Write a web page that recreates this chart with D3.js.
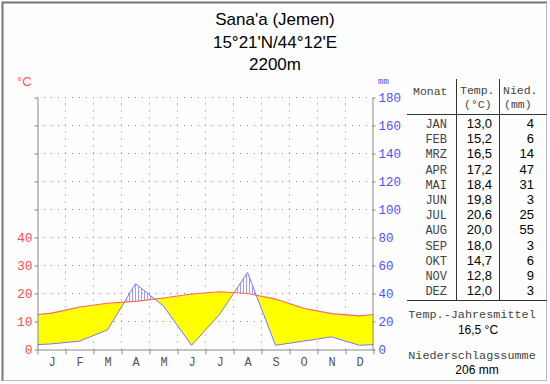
<!DOCTYPE html>
<html>
<head>
<meta charset="utf-8">
<script src="https://cdn.jsdelivr.net/npm/d3@7"></script>
<style>
  body { margin: 0; background: #fff; }
  .mono { font-family: "Liberation Mono", "DejaVu Sans Mono", monospace; }
  .sans { font-family: "Liberation Sans", Arial, sans-serif; }
</style>
</head>
<body>
<svg id="chart" width="550" height="384"></svg>
<script>
// ---- data ----
const titleLines = ["Sana'a (Jemen)", "15°21'N/44°12'E", "2200m"];
const monthLetters = ["J","F","M","A","M","J","J","A","S","O","N","D"];
const monthNames = ["JAN","FEB","MRZ","APR","MAI","JUN","JUL","AUG","SEP","OKT","NOV","DEZ"];
const temps = [13.0, 15.2, 16.5, 17.2, 18.4, 19.8, 20.6, 20.0, 18.0, 14.7, 12.8, 12.0];
const precip = [4, 6, 14, 47, 31, 3, 25, 55, 3, 6, 9, 3];
const tempTicks = [0, 10, 20, 30, 40];
const precipTicks = [0, 20, 40, 60, 80, 100, 120, 140, 160, 180];
const annualMean = "16,5 °C";
const annualSum = "206 mm";

const svg = d3.select("#chart");
const fmt = v => d3.format(".1f")(v).replace(".", ",");

// frame
svg.append("rect").attr("x", 0).attr("y", 0).attr("width", 550).attr("height", 384).attr("fill", "#fdfefd");
svg.append("path").attr("d", "M2.5,381V2.5H547").attr("fill", "none").attr("stroke", "#777").attr("stroke-width", 2);
svg.append("path").attr("d", "M546.5,3V380.5H3").attr("fill", "none").attr("stroke", "#bbb");

// title
svg.append("g").attr("class", "sans")
  .selectAll("text").data(titleLines).join("text")
  .attr("x", 275).attr("y", (d, i) => 25 + i * 22.5)
  .attr("text-anchor", "middle").attr("font-size", 17).attr("fill", "#000")
  .text(d => d);

// scales: 10 °C == 20 mm
const x = d3.scaleLinear().domain([0, 12]).range([37.5, 373.5]);
const y = d3.scaleLinear().domain([0, 90]).range([349.5, 97.5]);
const yP = d3.scaleLinear().domain([0, 180]).range([349.5, 97.5]);

// points at month centres, ends taken halfway between Dec and Jan
const edge = { m: 0, t: (temps[11] + temps[0]) / 2, p: (precip[11] + precip[0]) / 2 };
const pts = [edge]
  .concat(temps.map((t, i) => ({ m: i + 0.5, t: t, p: precip[i] })))
  .concat([{ m: 12, t: edge.t, p: edge.p }]);

// grid
const grid = svg.append("g").attr("stroke", "#888").attr("stroke-dasharray", "1,6");
grid.selectAll(".h").data(d3.range(10, 100, 10)).join("line")
  .attr("x1", x(0) - 0.5).attr("x2", x(12)).attr("y1", d => y(d)).attr("y2", d => y(d));
grid.selectAll(".v").data(d3.range(1, 12)).join("line")
  .attr("x1", d => x(d)).attr("x2", d => x(d)).attr("y1", y(0)).attr("y2", y(90) - 0.5);

// defs: clips and hatch
const defs = svg.append("defs");
defs.append("clipPath").attr("id", "underTemp").append("path")
  .attr("d", d3.area().x(d => x(d.m)).y0(y(0) + 5).y1(d => y(d.t))(pts));
defs.append("clipPath").attr("id", "underPrec").append("path")
  .attr("d", d3.area().x(d => x(d.m)).y0(y(0) + 5).y1(d => y(d.p / 2))(pts));
const pat = defs.append("pattern").attr("id", "hatch").attr("patternUnits", "userSpaceOnUse")
  .attr("width", 3).attr("height", 10);
pat.append("line").attr("x1", 0.5).attr("x2", 0.5).attr("y1", 0).attr("y2", 10)
  .attr("stroke", "#9c9cff").attr("stroke-width", 1);

// dry season (yellow) and humid season (hatched)
const band = d3.area().x(d => x(d.m)).y0(d => y(d.p / 2)).y1(d => y(d.t));
svg.append("path").attr("d", band(pts)).attr("fill", "#ffff00").attr("clip-path", "url(#underTemp)");
svg.append("path").attr("d", band(pts)).attr("fill", "url(#hatch)").attr("clip-path", "url(#underPrec)");

// lines
svg.append("path").attr("d", d3.line().x(d => x(d.m)).y(d => y(d.p / 2))(pts))
  .attr("fill", "none").attr("stroke", "#7878ff").attr("stroke-width", 1);
svg.append("path").attr("d", d3.line().x(d => x(d.m)).y(d => y(d.t))(pts))
  .attr("fill", "none").attr("stroke", "#ff6464").attr("stroke-width", 1.1);

// left axis (°C)
const gl = svg.append("g").attr("transform", `translate(${x(0)},0)`)
  .call(d3.axisLeft(y).tickValues(d3.range(0, 100, 10)).tickSize(3).tickSizeOuter(0).tickPadding(2)
    .tickFormat(d => tempTicks.includes(d) ? d : ""));
gl.select(".domain").attr("stroke", "#888");
gl.selectAll(".tick line").attr("stroke", "#888");
gl.selectAll("text").attr("class", "mono").attr("font-size", 13).attr("fill", "#ff5050");

// right axis (mm)
const gr = svg.append("g").attr("transform", `translate(${x(12) - 1},0)`)
  .call(d3.axisRight(yP).tickValues(precipTicks).tickSize(3).tickSizeOuter(0).tickPadding(3));
gr.select(".domain").attr("stroke", "#888");
gr.selectAll(".tick line").attr("stroke", "#888");
gr.selectAll("text").attr("class", "mono").attr("font-size", 12.5).attr("fill", "#5050ff");

// bottom axis
const gb = svg.append("g").attr("transform", `translate(0,${y(0)})`)
  .call(d3.axisBottom(x).tickValues(d3.range(0, 13)).tickSize(5).tickSizeOuter(0).tickFormat(""));
gb.select(".domain").attr("stroke", "#888");
gb.selectAll(".tick line").attr("stroke", "#888");
const gm = svg.append("g").attr("transform", `translate(0,${y(0)})`)
  .call(d3.axisBottom(x).tickValues(d3.range(0.5, 12, 1)).tickSize(0).tickPadding(8)
    .tickFormat((d, i) => monthLetters[i]));
gm.select(".domain").remove();
gm.selectAll("text").attr("class", "mono").attr("font-size", 12).attr("fill", "#555");

// unit labels
svg.append("text").attr("class", "sans").attr("x", 17).attr("y", 86)
  .attr("font-size", 13).attr("fill", "#ff5050").text("°C");
svg.append("text").attr("class", "mono").attr("x", 378).attr("y", 84)
  .attr("font-size", 9).attr("fill", "#5050ff").text("mm");

// table
const tbl = svg.append("g");
tbl.append("line").attr("x1", 407).attr("x2", 547).attr("y1", 114.5).attr("y2", 114.5).attr("stroke", "#333");
tbl.append("line").attr("x1", 407).attr("x2", 547).attr("y1", 300.5).attr("y2", 300.5).attr("stroke", "#333");
[456.5, 499.5].forEach(cx => tbl.append("line").attr("x1", cx).attr("x2", cx)
  .attr("y1", 79).attr("y2", 300.5).attr("stroke", "#333"));

const head = tbl.append("g").attr("class", "mono").attr("font-size", 11.5).attr("fill", "#444");
head.append("text").attr("x", 413).attr("y", 95).text("Monat");
head.append("text").attr("x", 460).attr("y", 94).text("Temp.");
head.append("text").attr("x", 503).attr("y", 94).text("Nied.");
head.append("text").attr("x", 464).attr("y", 108).text("(°C)");
head.append("text").attr("x", 504).attr("y", 108).text("(mm)");

const rowY = i => 128 + i * 15.2;
tbl.append("g").attr("class", "mono").attr("font-size", 12).attr("fill", "#444")
  .selectAll("text").data(monthNames).join("text")
  .attr("x", 447).attr("y", (d, i) => rowY(i)).attr("text-anchor", "end").text(d => d);
tbl.append("g").attr("class", "sans").attr("font-size", 13).attr("fill", "#000")
  .selectAll("text").data(temps).join("text")
  .attr("x", 492).attr("y", (d, i) => rowY(i)).attr("text-anchor", "end").text(d => fmt(d));
tbl.append("g").attr("class", "sans").attr("font-size", 13).attr("fill", "#000")
  .selectAll("text").data(precip).join("text")
  .attr("x", 534).attr("y", (d, i) => rowY(i)).attr("text-anchor", "end").text(d => d);

const foot = tbl.append("g").attr("text-anchor", "middle");
foot.append("text").attr("class", "mono").attr("x", 472).attr("y", 318).attr("font-size", 11.8).attr("fill", "#444").text("Temp.-Jahresmittel");
foot.append("text").attr("class", "sans").attr("x", 478).attr("y", 334).attr("font-size", 12).attr("fill", "#000").text(annualMean);
foot.append("text").attr("class", "mono").attr("x", 472).attr("y", 359).attr("font-size", 11.8).attr("fill", "#444").text("Niederschlagssumme");
foot.append("text").attr("class", "sans").attr("x", 477).attr("y", 374).attr("font-size", 12).attr("fill", "#000").text(annualSum);
</script>
</body>
</html>
